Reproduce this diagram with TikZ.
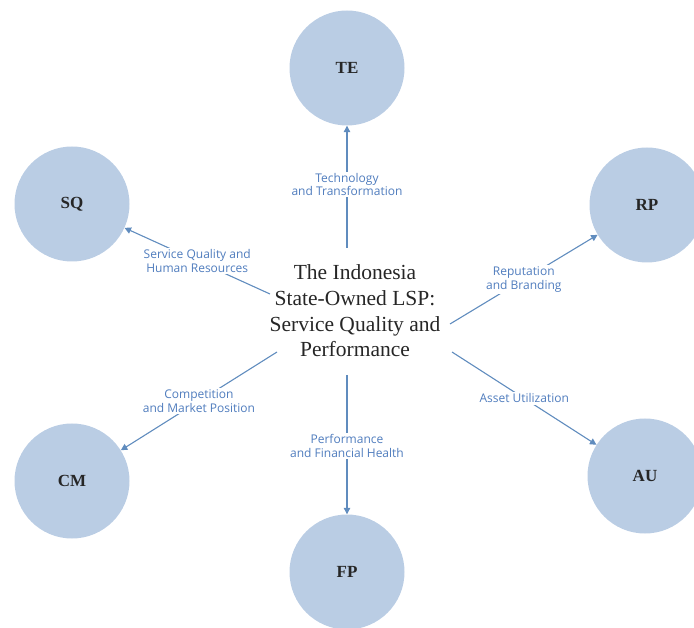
\documentclass[tikz,border=0pt]{standalone}
\usepackage{fontspec}
\setmainfont{Liberation Serif}
\newfontfamily\lblfont{Open Sans}
\usetikzlibrary{arrows.meta}
\definecolor{circfill}{RGB}{186,205,228}
\definecolor{arrowcol}{RGB}{96,140,190}
\definecolor{lblcol}{RGB}{80,125,190}
\tikzset{
  topic/.style={circle, fill=circfill, minimum size=115pt, inner sep=0pt,
    font=\fontsize{17}{20}\selectfont\bfseries, text=black!85},
  link/.style={draw=arrowcol, line width=1.1pt, -{Triangle[width=6.5pt,length=6.5pt]}},
  lbl/.style={fill=white, inner sep=1.5pt, align=center, text=lblcol,
    font=\lblfont\fontsize{12}{13.5}\selectfont}
}
\begin{document}
\begin{tikzpicture}[x=1pt,y=-1pt]
\useasboundingbox (0,0) rectangle (694,628);
\node[topic] (TE) at (347,68) {TE};
\node[topic] (SQ) at (72,204) {SQ};
\node[topic] (RP) at (647,205) {RP};
\node[topic] (CM) at (72,481) {CM};
\node[topic] (AU) at (645,476) {AU};
\node[topic] (FP) at (347,572) {FP};
\node[align=center, font=\fontsize{21.5}{25.7}\selectfont, text=black!85] (center) at (355,311)
  {The Indonesia\\State-Owned LSP:\\Service Quality and\\Performance};
\coordinate (sTE) at (347,248);
\coordinate (sSQ) at (270,294);
\coordinate (sRP) at (450,324);
\coordinate (sAU) at (452,352);
\coordinate (sCM) at (277,352);
\coordinate (sFP) at (347,375);
\draw[link] (sTE) -- (TE) node[lbl, pos=0.52] (lTE) {Technology\\and Transformation};
\draw[link] (sSQ) -- (SQ) node[lbl, midway] (lSQ) {Service Quality and\\Human Resources};
\draw[link] (sRP) -- (RP) node[lbl, midway] (lRP) {Reputation\\and Branding};
\draw[link] (sAU) -- (AU) node[lbl, midway] (lAU) {Asset Utilization};
\draw[link] (sCM) -- (CM) node[lbl, midway] (lCM) {Competition\\and Market Position};
\draw[link] (sFP) -- (FP) node[lbl, pos=0.51] (lFP) {Performance\\and Financial Health};
\end{tikzpicture}
\end{document}
